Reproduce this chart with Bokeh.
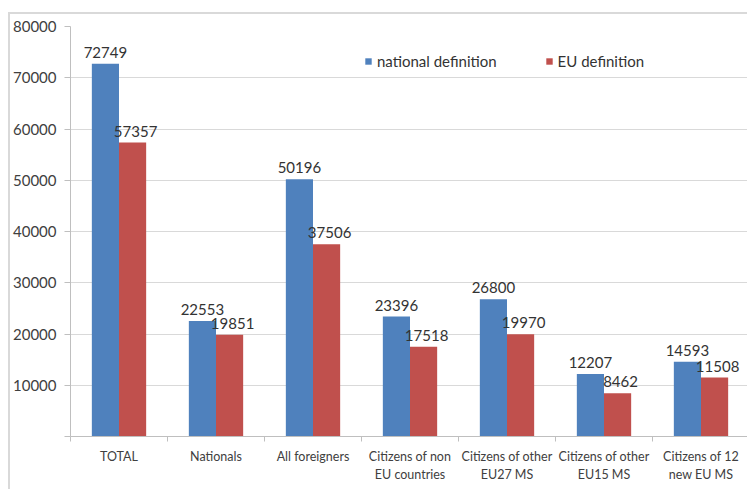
from bokeh.plotting import figure
from bokeh.models import ColumnDataSource, FixedTicker, Legend, LegendItem, LabelSet
from bokeh.core.properties import value
from bokeh.embed import file_html
from bokeh.resources import INLINE

# Registered persons by citizenship, two definitions
categories = ["TOTAL", "Nationals", "All foreigners", "Citizens of non\nEU countries",
              "Citizens of other\nEU27 MS", "Citizens of other\nEU15 MS", "Citizens of 12\nnew EU MS"]
national_def = [72749, 22553, 50196, 23396, 26800, 12207, 14593]
eu_def = [57357, 19851, 37506, 17518, 19970, 8462, 11508]
y_ticks = list(range(0, 80001, 10000))

BLUE = "#4F81BD"
RED = "#C0504D"
FONT = "Lato"
BAR_W = 0.28

centers = [i + 0.5 for i in range(len(categories))]
src_nat = ColumnDataSource(dict(x=[c - BAR_W / 2 for c in centers], top=national_def,
                                label=[str(v) for v in national_def]))
src_eu = ColumnDataSource(dict(x=[c + BAR_W / 2 for c in centers], top=eu_def,
                               label=[str(v) for v in eu_def]))

p = figure(width=739, height=477, x_range=(0, len(categories)), y_range=(0, 80000),
           output_backend="svg", toolbar_location=None,
           min_border_left=60, min_border_right=0, min_border_top=12, min_border_bottom=55,
           margin=(12, 0, 0, 8))
p.styles = {"border-left": "2px solid #d9d9d9", "border-top": "2px solid #d9d9d9"}
p.outline_line_color = None
p.background_fill_color = "white"
p.border_fill_color = "white"

r_nat = p.vbar(x="x", top="top", width=BAR_W, source=src_nat, fill_color=BLUE, line_color=None)
r_eu = p.vbar(x="x", top="top", width=BAR_W, source=src_eu, fill_color=RED, line_color=None)

for src, dx in ((src_nat, 0), (src_eu, 3)):
    p.add_layout(LabelSet(x="x", y="top", text="label", source=src, text_align="center",
                          text_baseline="bottom", x_offset=dx, y_offset=6, text_font=value(FONT),
                          text_font_size="15px", text_color="#333333"))

# axes
p.xaxis.ticker = FixedTicker(ticks=centers, minor_ticks=list(range(len(categories) + 1)))
p.xaxis.major_label_overrides = {c: lab for c, lab in zip(centers, categories)}
p.xaxis.major_tick_line_color = None
p.xaxis.major_tick_out = 0
p.xaxis.minor_tick_in = 0
p.xaxis.minor_tick_out = 5
p.xaxis.minor_tick_line_color = "#bfbfbf"
p.xaxis.axis_line_color = "#bfbfbf"
p.xaxis.major_label_standoff = 7
p.xaxis.major_label_text_font = FONT
p.xaxis.major_label_text_font_size = "12.5px"
p.xaxis.major_label_text_color = "#404040"

p.yaxis.ticker = FixedTicker(ticks=y_ticks)
p.yaxis.major_label_overrides = {0: ""}
p.yaxis.minor_tick_line_color = None
p.yaxis.major_tick_in = 0
p.yaxis.major_tick_out = 6
p.yaxis.major_tick_line_color = "#bfbfbf"
p.yaxis.axis_line_color = "#bfbfbf"
p.yaxis.major_label_standoff = 8
p.yaxis.major_label_text_font = FONT
p.yaxis.major_label_text_font_size = "15px"
p.yaxis.major_label_text_color = "#404040"

p.xgrid.grid_line_color = None
p.ygrid.grid_line_color = "#d9d9d9"
p.ygrid.ticker = FixedTicker(ticks=y_ticks[1:])

legend = Legend(items=[LegendItem(label="national definition", renderers=[r_nat]),
                       LegendItem(label="EU definition", renderers=[r_eu])],
                orientation="horizontal", location=(294, 366), padding=0, margin=0,
                spacing=48, glyph_width=8, glyph_height=8, label_standoff=5,
                label_text_font=FONT, label_text_font_size="15px", label_text_color="#333333",
                label_height=16, border_line_color=None, background_fill_alpha=0)
p.add_layout(legend)

open("out.html", "w").write(file_html(p, INLINE))
